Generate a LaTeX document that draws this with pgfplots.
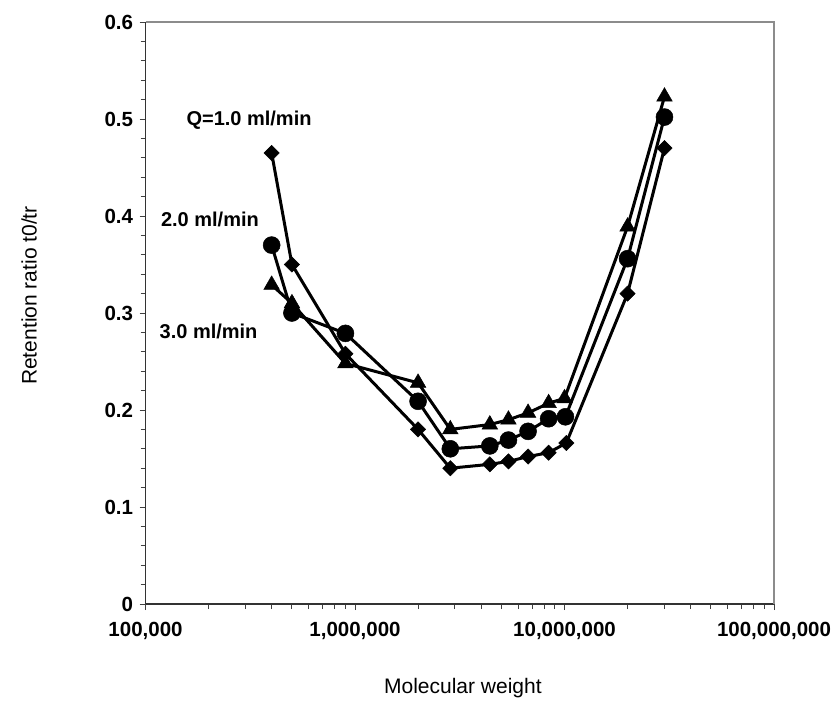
\documentclass[border=0pt]{standalone}
\usepackage{pgfplots}
\pgfplotsset{compat=1.18}
\usepackage{fontspec}
\setmainfont{Liberation Sans}

\pgfplotstableread{
x y
4.0e5 0.465
5.0e5 0.350
9.0e5 0.258
2.0e6 0.180
2.85e6 0.140
4.4e6 0.144
5.4e6 0.147
6.7e6 0.152
8.4e6 0.156
1.02e7 0.166
2.0e7 0.320
3.0e7 0.470
}\diamonddata

\pgfplotstableread{
x y
4.0e5 0.370
5.0e5 0.300
9.0e5 0.279
2.0e6 0.209
2.85e6 0.160
4.4e6 0.163
5.4e6 0.169
6.7e6 0.178
8.4e6 0.191
1.01e7 0.193
2.0e7 0.356
3.0e7 0.502
}\circledata

\pgfplotstableread{
x y
4.0e5 0.329
5.0e5 0.310
9.0e5 0.248
2.0e6 0.228
2.85e6 0.180
4.4e6 0.185
5.4e6 0.190
6.7e6 0.197
8.4e6 0.207
1.0e7 0.212
2.0e7 0.389
3.0e7 0.523
}\triangledata

\begin{document}
\begin{tikzpicture}
\begin{axis}[
  name=ax,
  scale only axis,
  width=628.5pt, height=582pt,
  xmode=log, xmin=1e5, xmax=1e8,
  ymin=0, ymax=0.6,
  axis x line*=bottom, axis y line*=left,
  axis line style={-, line width=1.2pt, black!80},
  xtick={1e5,1e6,1e7,1e8},
  xticklabels={{100,000},{1,000,000},{10,000,000},{100,000,000}},
  ytick={0,0.1,0.2,0.3,0.4,0.5,0.6},
  yticklabels={0,0.1,0.2,0.3,0.4,0.5,0.6},
  minor y tick num=4,
  tick align=outside,
  major tick length=6pt, minor tick length=5pt,
  every tick/.style={black!75, line width=1pt},
  tick label style={font=\bfseries\fontsize{20.5}{20.5}\selectfont},
  xticklabel style={yshift=-9pt},
  yticklabel style={xshift=-3pt},
  xlabel={Molecular weight},
  ylabel={Retention ratio t0/tr},
  label style={font=\fontsize{21}{21}\selectfont},
  x label style={at={(axis description cs:0.505,-0.144)}, anchor=center},
  y label style={at={(axis description cs:-0.185,0.53)}, anchor=center, rotate=0},
  clip=false,
]
\draw[black!45, line width=1.2pt] (rel axis cs:0,1) -- (rel axis cs:1,1) -- (rel axis cs:1,0);
\addplot[black, line width=3pt, mark=square*, mark size=5.4pt, mark options={solid, rotate=45, line width=0.5pt}] table[x=x,y=y] {\diamonddata};
\addplot[black, line width=3pt, mark=*, mark size=8.5pt, mark options={solid, line width=0.5pt}] table[x=x,y=y] {\circledata};
\addplot[black, line width=3pt, mark=triangle*, mark size=9pt, mark options={solid, line width=0.5pt}] table[x=x,y=y] {\triangledata};
\node[font=\bfseries\fontsize{20}{20}\selectfont, anchor=center] at (axis cs:3.12e5,0.4985) {Q=1.0 ml/min};
\node[font=\bfseries\fontsize{20}{20}\selectfont, anchor=center] at (axis cs:2.03e5,0.396) {2.0 ml/min};
\node[font=\bfseries\fontsize{20}{20}\selectfont, anchor=center] at (axis cs:2.0e5,0.2807) {3.0 ml/min};
\end{axis}
\pgfresetboundingbox
\path (ax.south west) ++(-145.5pt,-98pt) rectangle ++(832pt,702pt);
\end{tikzpicture}
\end{document}
